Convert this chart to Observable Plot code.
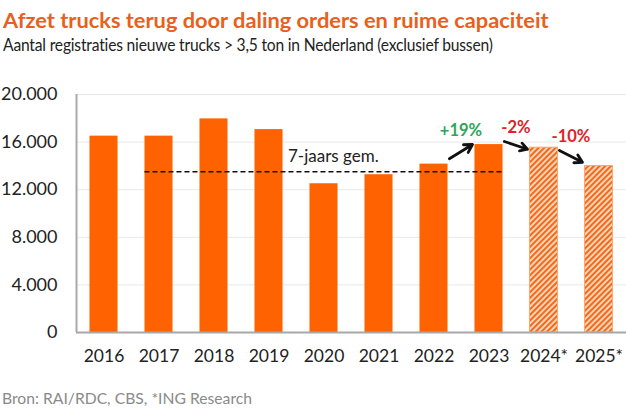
<!DOCTYPE html>
<html>
<head>
<meta charset="utf-8">
<script src="https://cdn.jsdelivr.net/npm/d3@7"></script>
<script src="https://cdn.jsdelivr.net/npm/@observablehq/plot@0.6"></script>
<style>
  html, body { margin: 0; padding: 0; background: #fff; }
  #wrap { position: relative; width: 626px; height: 417px; overflow: hidden; font-family: Lato, "Open Sans", sans-serif; }
  .title { position: absolute; left: 3px; top: 7px; font-size: 21.8px; font-weight: bold; color: #E8601C; line-height: 26px; white-space: nowrap; }
  .subtitle { position: absolute; left: 3px; top: 33px; font-size: 16.8px; letter-spacing: -0.2px; color: #222; line-height: 24px; white-space: nowrap; transform: scaleX(0.93); transform-origin: 0 50%; }
  .source { position: absolute; left: 2px; top: 387px; font-size: 15.7px; color: #8a8a8a; line-height: 22px; white-space: nowrap; }
  #chart { position: absolute; left: 0; top: 57px; }
</style>
</head>
<body>
<div id="wrap">
  <div class="title">Afzet trucks terug door daling orders en ruime capaciteit</div>
  <div class="subtitle">Aantal registraties nieuwe trucks &gt; 3,5 ton in Nederland (exclusief bussen)</div>
  <div id="chart"></div>
  <div class="source">Bron: RAI/RDC, CBS, *ING Research</div>
</div>
<script>
// ---- data ----
const years = ["2016", "2017", "2018", "2019", "2020", "2021", "2022", "2023", "2024*", "2025*"];
const registrations = [16500, 16500, 17950, 17050, 12500, 13260, 14150, 15790, 15530, 13990];
const forecast = [false, false, false, false, false, false, false, false, true, true];
const averageValue = 13500;
const averageLabel = "7-jaars gem.";
const averageFrom = "2017";
const averageTo = "2023";
const changeFrom = ["2022", "2023", "2024*"];
const changeStartValue = [14600, 16050, 15300];
const changeEndValue = [15800, 15400, 14300];
const changeLabels = ["+19%", "-2%", "-10%"];
const yTicks = [0, 4000, 8000, 12000, 16000, 20000];

// ---- derived tables ----
const bars = years.map((y, i) => ({i, year: y, value: registrations[i], forecast: forecast[i]}));
const half = 0.255;
const arrows = changeFrom.map((y, k) => {
  const i = years.indexOf(y);
  return {x1: i + 0.28, x2: i + 0.7, y1: changeStartValue[k], y2: changeEndValue[k], label: changeLabels[k]};
});
const avgI1 = years.indexOf(averageFrom) - half;
const avgI2 = years.indexOf(averageTo) + half;
const fmt = v => d3.format(",")(v).replace(/,/g, ".");
const ORANGE = "#FF6200";

const plot = Plot.plot({
  width: 626,
  height: 320,
  marginLeft: 76,
  marginRight: 0,
  marginTop: 37,
  marginBottom: 45,
  style: {fontFamily: "Lato, 'Open Sans', sans-serif", fontSize: "17px", color: "#222", background: "#fff"},
  x: {domain: [-0.5, 9.5], axis: null},
  y: {domain: [0, 20000], axis: null},
  marks: [
    Plot.ruleY(yTicks.filter(d => d > 0), {stroke: "#e8e8e8", strokeWidth: 1}),
    Plot.text(yTicks, {x: -0.5, y: d => d, text: d => fmt(d), textAnchor: "end", dx: -19, fontSize: 18, fill: "#222"}),
    Plot.text(bars, {x: "i", y: 0, text: "year", dy: 24, fontSize: 17.5, fill: "#222"}),
    Plot.rectY(bars.filter(d => !d.forecast), {x1: d => d.i - half, x2: d => d.i + half, y: "value", fill: ORANGE}),
    Plot.rectY(bars.filter(d => d.forecast), {x1: d => d.i - half, x2: d => d.i + half, y: "value", fill: "url(#hatch)", stroke: "#F9A86E", strokeWidth: 1}),
    Plot.ruleX([-0.5], {y1: 0, y2: 20000, stroke: "#a8a8a8", strokeWidth: 2}),
    Plot.ruleY([0], {stroke: "#a8a8a8", strokeWidth: 2}),
    Plot.ruleY([averageValue], {x1: avgI1, x2: avgI2, stroke: "#111", strokeWidth: 1.5, strokeDasharray: "5,3"}),
    Plot.text([averageLabel], {x: 4.17, y: averageValue, text: d => d, dy: -15, fontSize: 17, fill: "#222"}),
    Plot.arrow(arrows, {x1: "x1", y1: "y1", x2: "x2", y2: "y2", stroke: "#111", strokeWidth: 2.8, headLength: 10, headAngle: 60}),
    Plot.text(arrows, {x: d => (d.x1 + d.x2) / 2, y: d => Math.max(d.y1, d.y2), text: "label", dy: -14,
      fontSize: 16.5, fontWeight: "bold", fill: d => d.label.startsWith("+") ? "#2EA65A" : "#E0202A"})
  ]
});

// hatch pattern defs
const ns = "http://www.w3.org/2000/svg";
const defs = document.createElementNS(ns, "defs");
defs.innerHTML = `<pattern id="hatch" patternUnits="userSpaceOnUse" width="4" height="4" patternTransform="rotate(45)">
  <rect width="4" height="4" fill="#FDE0C8"></rect>
  <rect width="2.2" height="4" fill="#F26A1B"></rect>
</pattern>`;
plot.insertBefore(defs, plot.firstChild);
document.getElementById("chart").appendChild(plot);
</script>
</body>
</html>
